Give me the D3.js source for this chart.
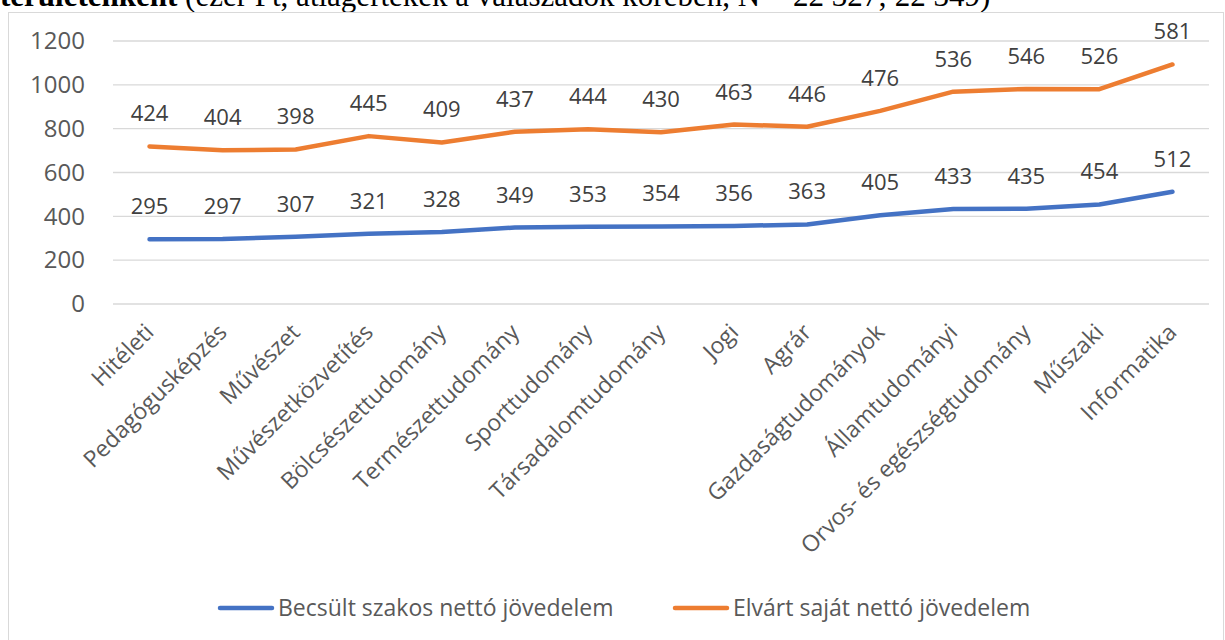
<!DOCTYPE html>
<html lang="hu">
<head>
<meta charset="UTF-8">
<title>Becsült és elvárt nettó jövedelem</title>
<script src="https://d3js.org/d3.v7.min.js"></script>
<style>
    body { margin: 0; background: #fff; }
    svg text { font-family: "Open Sans", sans-serif; }
</style>
</head>
<body>
<div id="chart"></div>
<script>
    // képzési területek
    const categories = ["Hitéleti", "Pedagógusképzés", "Művészet", "Művészetközvetítés",
        "Bölcsészettudomány", "Természettudomány", "Sporttudomány", "Társadalomtudomány",
        "Jogi", "Agrár", "Gazdaságtudományok", "Államtudományi",
        "Orvos- és egészségtudomány", "Műszaki", "Informatika"];
    const becsult = [295, 297, 307, 321, 328, 349, 353, 354, 356, 363, 405, 433, 435, 454, 512];
    const elvart = [424, 404, 398, 445, 409, 437, 444, 430, 463, 446, 476, 536, 546, 526, 581];
    const yTicks = [0, 200, 400, 600, 800, 1000, 1200];
    const seriesNames = ["Becsült szakos nettó jövedelem", "Elvárt saját nettó jövedelem"];
    const colors = ["#4472C4", "#ED7D31"];

    const width = 1225, height = 640;
    const plot = {left: 113, right: 1209, top: 41, bottom: 304};

    const svg = d3.select("#chart").append("svg")
        .attr("width", width)
        .attr("height", height);

    // title line, cut off at the top
    const title = svg.append("text")
        .attr("x", 0)
        .attr("y", 6)
        .style("font-family", "'Liberation Serif', 'Times New Roman', serif")
        .style("font-size", "31px")
        .attr("fill", "#000");
    title.append("tspan").style("font-weight", "bold").text("területenként");
    title.append("tspan").text(" (ezer Ft, átlagértékek a válaszadók körében, N = 22 327; 22 349)");

    // chart frame
    svg.append("rect")
        .attr("x", 8.5).attr("y", 12.5)
        .attr("width", 1215).attr("height", 640)
        .attr("fill", "none")
        .attr("stroke", "#d9d9d9")
        .attr("stroke-width", 1);

    const x = d3.scalePoint().domain(categories).range([plot.left, plot.right]).padding(0.5);
    const y = d3.scaleLinear().domain([0, 1200]).range([plot.bottom, plot.top]);

    // stacked lines
    const rows = categories.map((c, i) => ({cat: c, b: becsult[i], e: elvart[i]}));
    const stacked = d3.stack().keys(["b", "e"])(rows);

    // gridlines
    svg.append("g")
        .selectAll("line")
        .data(yTicks)
        .join("line")
        .attr("x1", plot.left).attr("x2", plot.right)
        .attr("y1", d => y(d)).attr("y2", d => y(d))
        .attr("stroke", "#d9d9d9")
        .attr("stroke-width", 1.3);

    // y axis labels
    const yAxis = svg.append("g")
        .attr("transform", `translate(${plot.left - 28}, 0)`)
        .call(d3.axisLeft(y).tickValues(yTicks).tickFormat(d3.format("d")).tickSize(0).tickPadding(0));
    yAxis.select(".domain").remove();
    yAxis.selectAll("text")
        .style("font-size", "24px")
        .style("font-family", "'Open Sans', sans-serif")
        .attr("fill", "#595959");

    // x axis labels, rotated
    svg.append("g")
        .selectAll("text")
        .data(categories)
        .join("text")
        .attr("transform", d => `translate(${x(d)}, 328) rotate(-45)`)
        .attr("text-anchor", "end")
        .attr("dy", "0.35em")
        .style("font-size", "23px")
        .attr("fill", "#595959")
        .text(d => d);

    const line = d3.line()
        .x(d => x(d.data.cat))
        .y(d => y(d[1]));

    svg.append("g")
        .selectAll("path")
        .data(stacked)
        .join("path")
        .attr("d", line)
        .attr("fill", "none")
        .attr("stroke", (d, i) => colors[i])
        .attr("stroke-width", 4.5)
        .attr("stroke-linecap", "round")
        .attr("stroke-linejoin", "round");

    // data labels: own values above the stacked points
    stacked.forEach(s => {
        svg.append("g")
            .selectAll("text")
            .data(s)
            .join("text")
            .attr("x", d => x(d.data.cat))
            .attr("y", d => y(d[1]) - 25)
            .attr("text-anchor", "middle")
            .style("font-size", "22px")
            .attr("fill", "#404040")
            .text(d => d.data[s.key]);
    });

    // legend
    const legendItems = [{x: 218, name: seriesNames[0], color: colors[0]},
                         {x: 673, name: seriesNames[1], color: colors[1]}];
    const legend = svg.append("g").attr("transform", "translate(0, 608)");
    legend.selectAll("line")
        .data(legendItems)
        .join("line")
        .attr("x1", d => d.x + 2).attr("x2", d => d.x + 54)
        .attr("y1", 0).attr("y2", 0)
        .attr("stroke", d => d.color)
        .attr("stroke-width", 4.5)
        .attr("stroke-linecap", "round");
    legend.selectAll("text")
        .data(legendItems)
        .join("text")
        .attr("x", d => d.x + 60)
        .attr("y", 0)
        .attr("dy", "0.35em")
        .style("font-size", "23px")
        .attr("fill", "#595959")
        .text(d => d.name);
</script>
</body>
</html>
